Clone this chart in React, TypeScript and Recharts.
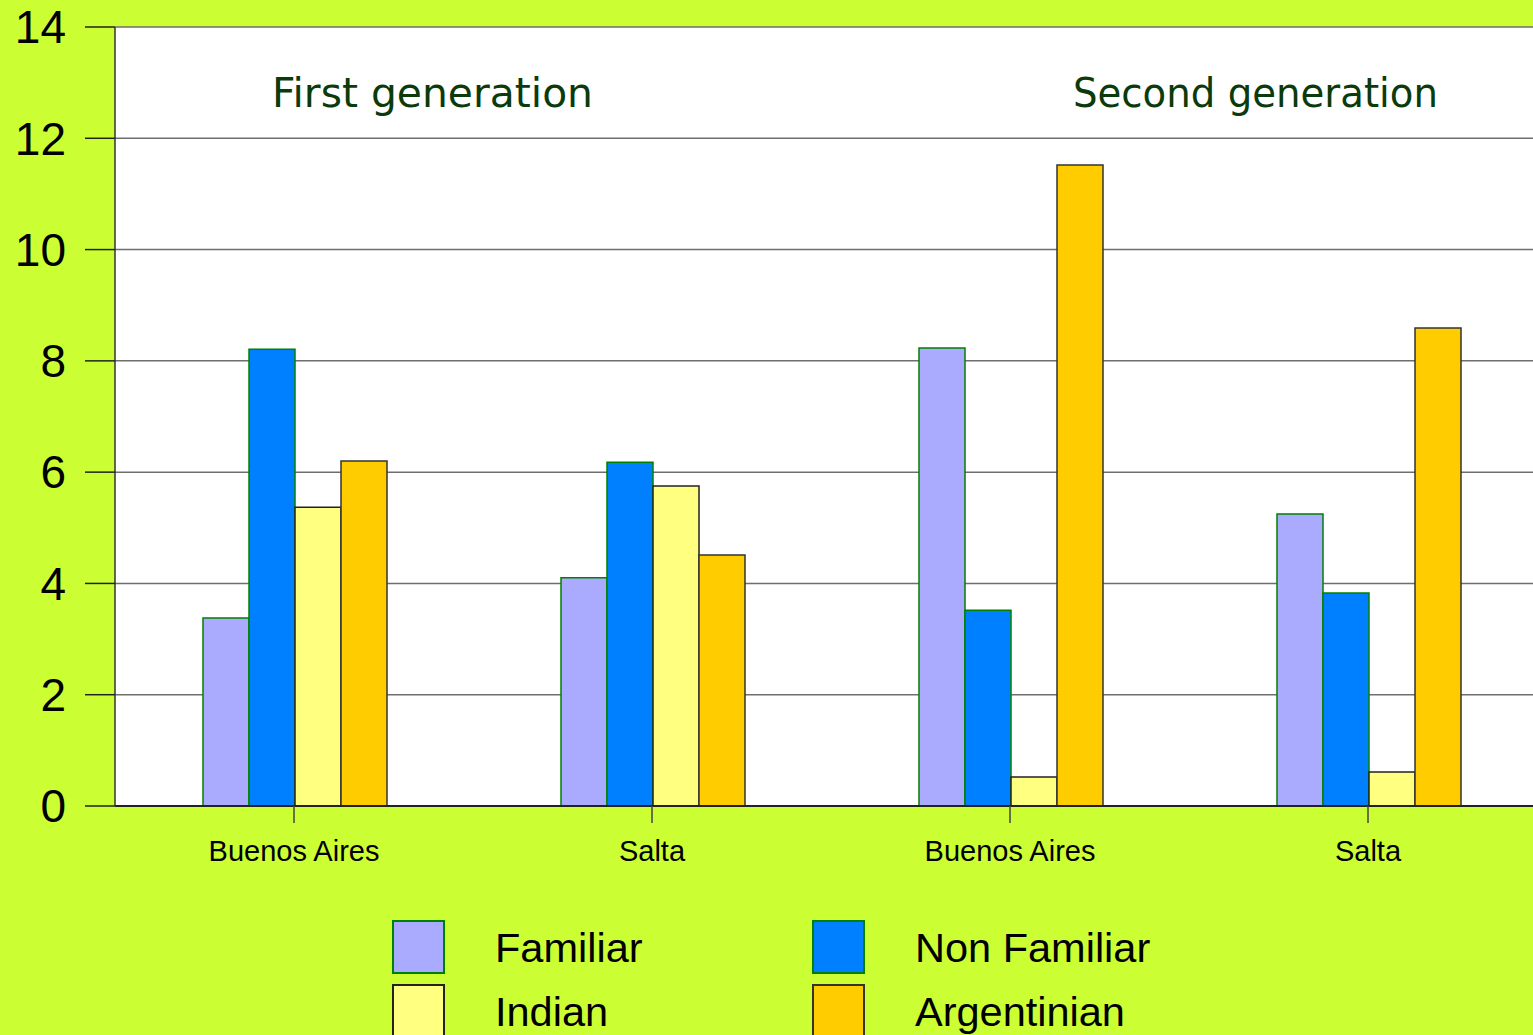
import React from "react";
import { BarChart, Bar, XAxis, YAxis, CartesianGrid } from "recharts";

const categories = ["Buenos Aires", "Salta", "Buenos Aires", "Salta"];
const familiar = [3.38, 4.1, 8.23, 5.25];
const nonFamiliar = [8.21, 6.18, 3.52, 3.83];
const indian = [5.37, 5.75, 0.52, 0.61];
const argentinian = [6.2, 4.51, 11.52, 8.59];
const yTicks = [0, 2, 4, 6, 8, 10, 12, 14];
const groupTitles = ["First generation", "Second generation"];

const series = [
  { key: "familiar", name: "Familiar", fill: "#AAAAFF", stroke: "#008000" },
  { key: "nonFamiliar", name: "Non Familiar", fill: "#0080FF", stroke: "#008000" },
  { key: "indian", name: "Indian", fill: "#FFFF80", stroke: "#222222" },
  { key: "argentinian", name: "Argentinian", fill: "#FFCC00", stroke: "#333333" },
];

const data = categories.map((c, i) => ({
  id: String(i),
  label: c,
  familiar: familiar[i],
  nonFamiliar: nonFamiliar[i],
  indian: indian[i],
  argentinian: argentinian[i],
}));

const FONT = "'Liberation Sans', Arial, sans-serif";

export default function App() {
  return (
    <div
      style={{
        position: "fixed",
        left: 0,
        top: 0,
        width: 1533,
        height: 1035,
        overflow: "hidden",
        background: "#CCFF33",
        fontFamily: FONT,
      }}
    >
      <BarChart
        width={1547}
        height={1035}
        data={data}
        margin={{ top: 27, right: 0, left: 0, bottom: 0 }}
        barCategoryGap={88}
        barGap={0}
      >
        <CartesianGrid vertical={false} fill="#FFFFFF" stroke="#6E6E6E" strokeWidth={1.5} />
        <XAxis
          dataKey="id"
          tickFormatter={(v: string) => categories[Number(v)]}
          height={229}
          tickSize={17}
          tickMargin={17}
          axisLine={{ stroke: "#222222", strokeWidth: 2 }}
          tickLine={{ stroke: "#444444", strokeWidth: 1.5 }}
          tick={{ fontSize: 29, fill: "#000000", fontFamily: FONT }}
          interval={0}
        />
        <YAxis
          width={115}
          domain={[0, 14]}
          ticks={yTicks}
          tickSize={30}
          tickMargin={19}
          axisLine={{ stroke: "#333333", strokeWidth: 1.5 }}
          tickLine={{ stroke: "#222222", strokeWidth: 1.5 }}
          tick={{ fontSize: 46, fill: "#000000", fontFamily: FONT }}
          interval={0}
        />
        {series.map((s) => (
          <Bar
            key={s.key}
            dataKey={s.key}
            name={s.name}
            fill={s.fill}
            stroke={s.stroke}
            strokeWidth={1.5}
            isAnimationActive={false}
          />
        ))}
      </BarChart>

      <svg
        width={1533}
        height={1035}
        style={{ position: "absolute", left: 0, top: 0, pointerEvents: "none" }}
      >
        <text
          x={272}
          y={107}
          fontSize={40}
          fill="#0B3A0B"
          fontFamily="'DejaVu Sans', sans-serif"
          textLength={321}
          lengthAdjust="spacingAndGlyphs"
        >
          {groupTitles[0]}
        </text>
        <text
          x={1073}
          y={107}
          fontSize={40}
          fill="#0B3A0B"
          fontFamily="'DejaVu Sans', sans-serif"
          textLength={365}
          lengthAdjust="spacingAndGlyphs"
        >
          {groupTitles[1]}
        </text>
        {series.map((s, i) => {
          const col = i % 2;
          const row = Math.floor(i / 2);
          const sx = 393 + col * 420;
          const sy = 921 + row * 64;
          return (
            <g key={s.key}>
              <rect x={sx} y={sy} width={51} height={52} fill={s.fill} stroke={s.stroke} strokeWidth={2} />
              <text
                x={sx + 102}
                y={sy + 41}
                fontSize={41.5}
                fill="#000000"
                fontFamily={FONT}
              >
                {s.name}
              </text>
            </g>
          );
        })}
      </svg>
    </div>
  );
}
